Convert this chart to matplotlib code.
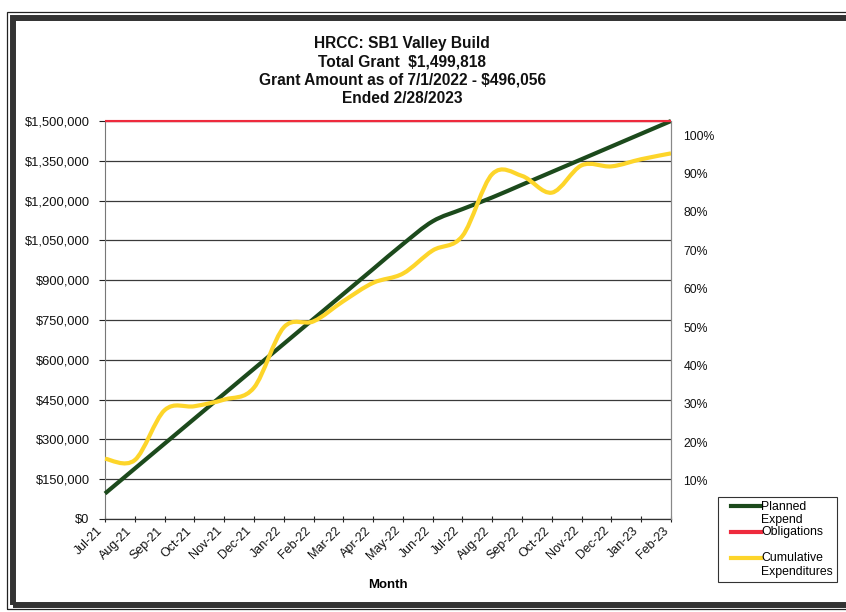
import numpy as np
import matplotlib
matplotlib.use("Agg")
import matplotlib.pyplot as plt
from matplotlib.path import Path
from matplotlib.patches import PathPatch, Rectangle
from matplotlib.lines import Line2D
from matplotlib.legend_handler import HandlerLine2D
from matplotlib.ticker import FuncFormatter, PercentFormatter
import matplotlib.transforms as mtransforms

plt.rcParams['font.family'] = ['Liberation Sans', 'DejaVu Sans']

# ---- data ----
months = ["Jul-21", "Aug-21", "Sep-21", "Oct-21", "Nov-21", "Dec-21", "Jan-22", "Feb-22",
          "Mar-22", "Apr-22", "May-22", "Jun-22", "Jul-22", "Aug-22", "Sep-22", "Oct-22",
          "Nov-22", "Dec-22", "Jan-23", "Feb-23"]
planned_expend = [96000, 190000, 284000, 378000, 472000, 566000, 660000, 754000,
                  848000, 942000, 1036000, 1122000, 1168000, 1212000, 1260000, 1308000,
                  1356000, 1404000, 1452000, 1500000]
obligations = [1499818] * 20
cumulative_expenditures = [227000, 222000, 410000, 425000, 450000, 495000, 722000, 745000,
                           821000, 890000, 925000, 1012000, 1067000, 1300000, 1293000, 1230000,
                           1333000, 1329000, 1356000, 1378000]
y_ticks = [0, 150000, 300000, 450000, 600000, 750000, 900000, 1050000, 1200000, 1350000, 1500000]
pct_ticks = [0.1, 0.2, 0.3, 0.4, 0.5, 0.6, 0.7, 0.8, 0.9, 1.0]
title_lines = ["HRCC: SB1 Valley Build", "Total Grant  $1,499,818",
               "Grant Amount as of 7/1/2022 - $496,056", "Ended 2/28/2023"]

GREEN = "#1c4a1c"
RED = "#ee2a3d"
YELLOW = "#fdd52a"

W, H = 846, 612
fig = plt.figure(figsize=(W / 100, H / 100), dpi=100)

def fx(px):
    return px / W

def fy(py):
    return 1 - py / H

ax = fig.add_axes([fx(105), fy(519), fx(671) - fx(105), fy(121) - fy(519)])

def smooth_path(xs, ys):
    pts = np.column_stack([xs, ys]).astype(float)
    n = len(pts)
    verts = [pts[0]]
    codes = [Path.MOVETO]
    for i in range(n - 1):
        p0 = pts[i - 1] if i > 0 else pts[i]
        p1 = pts[i]
        p2 = pts[i + 1]
        p3 = pts[i + 2] if i + 2 < n else pts[i + 1]
        c1 = p1 + (p2 - p0) / 6.0
        c2 = p2 - (p3 - p1) / 6.0
        verts += [c1, c2, p2]
        codes += [Path.CURVE4] * 3
    return Path(verts, codes)

x = np.arange(len(months))

ax.set_xlim(0, len(months) - 1)
ax.set_ylim(0, 1500000)
ax.set_yticks(y_ticks)
ax.yaxis.set_major_formatter(FuncFormatter(lambda v, p: "${:,.0f}".format(v)))
ax.grid(axis='y', color='#3a3a3a', linewidth=0.9)
ax.set_axisbelow(True)

for ys, col, lw, z in [(planned_expend, GREEN, 3.0, 3),
                       (obligations, RED, 1.6, 4),
                       (cumulative_expenditures, YELLOW, 3.0, 5)]:
    patch = PathPatch(smooth_path(x, ys), facecolor='none', edgecolor=col,
                      linewidth=lw, transform=ax.transData, zorder=z,
                      capstyle='butt', joinstyle='round')
    patch.set_clip_on(False)
    ax.add_patch(patch)

ax.set_xticks(x)
ax.set_xticklabels(months, rotation=45, ha='right', fontsize=9)
offset = mtransforms.ScaledTranslation(6 / 72, -1 / 72, fig.dpi_scale_trans)
for lab in ax.get_xticklabels():
    lab.set_transform(lab.get_transform() + offset)
ax.tick_params(axis='x', length=4, width=0.8, direction='inout', pad=2, colors='#222222')
ax.tick_params(axis='y', length=4, width=0.8, direction='out', pad=7, labelsize=9.3, colors='#222222')
for lab in ax.get_xticklabels() + ax.get_yticklabels():
    lab.set_color('#111111')

ax.spines['top'].set_visible(False)
ax.spines['left'].set_color('#777777')
ax.spines['right'].set_color('#888888')
ax.spines['bottom'].set_color('#333333')
ax.spines['left'].set_linewidth(0.8)
ax.spines['right'].set_linewidth(0.8)
ax.spines['bottom'].set_linewidth(0.9)

ax.set_xlabel("Month", fontsize=9.5, fontweight='bold', labelpad=12)

ax2 = ax.twinx()
ax2.set_ylim(0, 1.0365)
ax2.set_yticks(pct_ticks)
ax2.yaxis.set_major_formatter(PercentFormatter(1.0, decimals=0))
ax2.tick_params(axis='y', length=0, pad=9, labelsize=8.8, labelcolor='#111111')
for s in ['top', 'left', 'bottom']:
    ax2.spines[s].set_visible(False)
ax2.spines['right'].set_color('#888888')
ax2.spines['right'].set_linewidth(0.8)

fig.text(fx(402), fy(36), "\n".join(title_lines), ha='center', va='top',
         fontsize=11.2, fontweight='bold', linespacing=1.28, color='#111111')

class TopLineHandler(HandlerLine2D):
    def create_artists(self, legend, orig_handle, xdescent, ydescent, width, height,
                       fontsize, trans):
        arts = super().create_artists(legend, orig_handle, xdescent, ydescent, width,
                                      height, fontsize, trans)
        dy = 0.6 * fontsize
        for a in arts:
            a.set_ydata(np.asarray(a.get_ydata(), dtype=float) + dy)
            xd = np.asarray(a.get_xdata(), dtype=float)
            if len(xd) >= 2:
                x0 = xd[0] + 0.25 * (xd[-1] - xd[0])
                a.set_xdata(np.linspace(x0, xd[-1], len(xd)))
        return arts

handles = [Line2D([], [], color=GREEN, lw=3),
           Line2D([], [], color=RED, lw=3),
           Line2D([], [], color=YELLOW, lw=3)]
labels = ["Planned\nExpend", "Obligations\n ", "Cumulative\nExpenditures"]
leg = fig.legend(handles, labels, loc='upper left', bbox_to_anchor=(fx(718), fy(497)),
                 fontsize=8.8, frameon=True, fancybox=False, shadow=False,
                 borderpad=0.3, handlelength=3.2, handletextpad=0.05, labelspacing=0.0,
                 borderaxespad=0, handler_map={Line2D: TopLineHandler()})
leg.get_frame().set_edgecolor('black')
leg.get_frame().set_linewidth(0.8)

# chart frame (double border)
fig.patches.append(Rectangle((fx(7), fy(609)), 1.2, fy(12) - fy(609), transform=fig.transFigure,
                             fill=False, edgecolor='#222222', linewidth=0.9, figure=fig))
fig.patches.append(Rectangle((fx(13), fy(605)), 1.2, fy(18) - fy(605), transform=fig.transFigure,
                             fill=False, edgecolor='#333333', linewidth=4.3, figure=fig))

fig.savefig("out.png", dpi=100)
